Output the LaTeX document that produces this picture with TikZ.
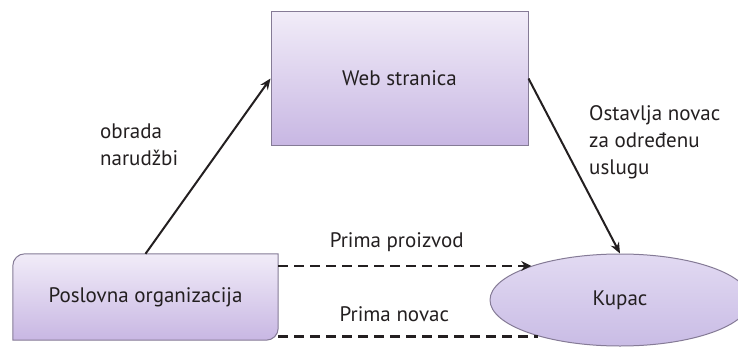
\documentclass[tikz,border=0pt]{standalone}
\usepackage{fontspec}
\setmainfont{PT Sans}
\usetikzlibrary{arrows.meta,shapes.geometric,backgrounds}
\definecolor{ink}{HTML}{231F20}
\definecolor{boxedge}{HTML}{857B96}
\definecolor{boxtop}{HTML}{F1ECF8}
\definecolor{boxbot}{HTML}{C8B7E3}
\definecolor{elltop}{HTML}{E2DAF2}
\definecolor{ellbot}{HTML}{C9BCE5}

\begin{document}
\begin{tikzpicture}[x=1pt,y=1pt,
    lbl/.style={text=ink,font=\fontsize{21}{27}\selectfont,inner sep=0},
    box/.style={draw=boxedge,line width=1pt,top color=boxtop,bottom color=boxbot,lbl},
    flow/.style={-{Stealth[length=11pt,width=9pt]},line width=2pt,ink},
    dashflow/.style={line width=2.6pt,ink,dash pattern=on 10pt off 6pt}]
    \useasboundingbox (0,0) rectangle (738,346);
    \node(w)[box,minimum width=257,minimum height=133] at (399.5,267.5) {Web stranica};
    \node(p)[lbl,minimum width=265,minimum height=86] at (145.5,49) {Poslovna organizacija};
    \node(k)[box,ellipse,top color=elltop,bottom color=ellbot,minimum width=260,minimum height=92] at (620,46) {Kupac};
    % background of the box with two round corners
    \begin{scope}[on background layer]
        \shadedraw[draw=boxedge,line width=1pt,top color=boxtop,bottom color=boxbot]
            ([yshift=-12]p.north west) arc[start angle=180,end angle=90,radius=12]
            -- (p.north east) -- ([yshift=12]p.south east)
            arc[start angle=0,end angle=-90,radius=12] -- (p.south west) -- cycle;
    \end{scope}

    \node(o)[lbl,anchor=west,align=left] at (100,201) {obrada\\narudžbi};
    \node(u)[lbl,anchor=west,align=left] at (589,204) {Ostavlja novac\\za određenu\\uslugu};

    \draw[flow] (p.north)--(w.west);
    \draw[flow] (w.east)--(k.north);
    \draw[dashflow,-{Stealth[length=10pt,width=10pt]}] (p.east |- k.159)--node[lbl,midway,above=13,xshift=-8]{Prima proizvod}(k.159);
    \draw[dashflow] (p.east |- k.204)--node[lbl,midway,above=13,xshift=-14]{Prima novac}(k.204);
\end{tikzpicture}
\end{document}
